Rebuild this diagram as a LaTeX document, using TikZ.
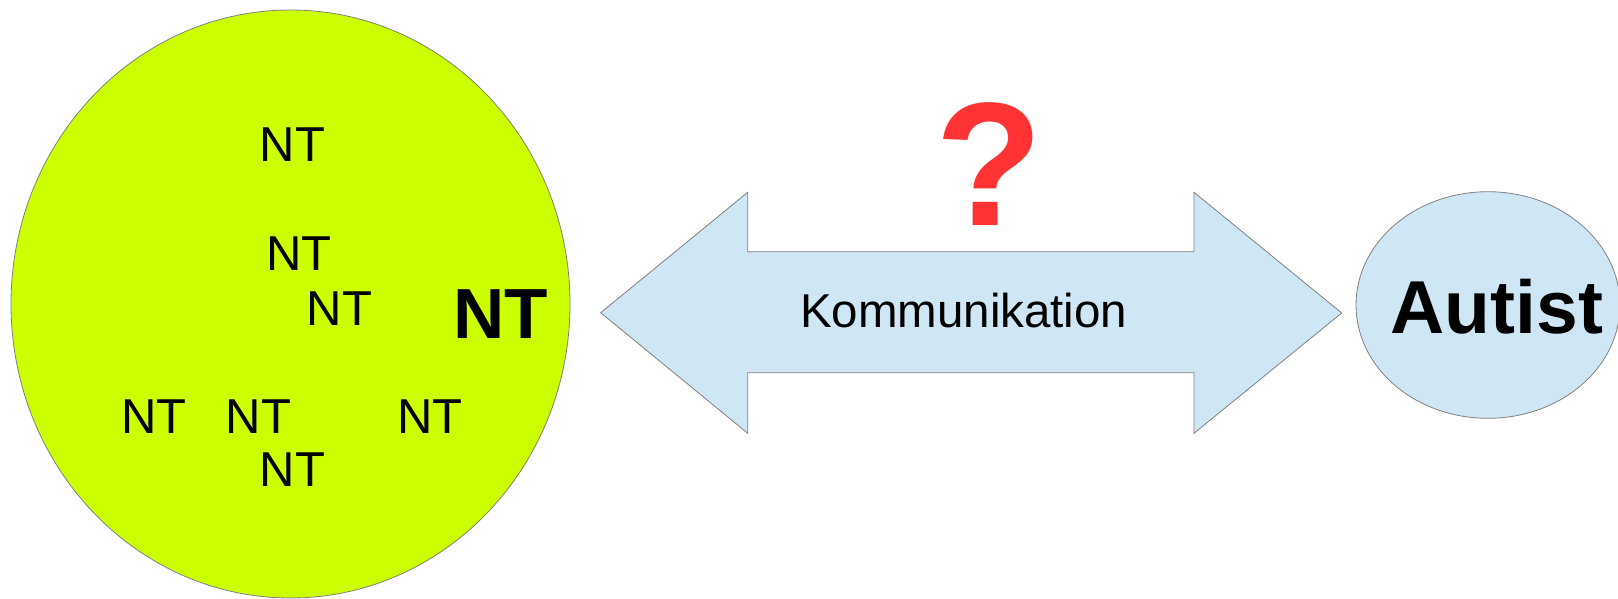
\documentclass[tikz,border=0pt]{standalone}
\usepackage{fontspec}
\setmainfont{Liberation Sans}
\definecolor{ntgreen}{HTML}{CCFF00}
\definecolor{lightblue}{HTML}{CFE6F4}
\definecolor{qred}{HTML}{FF3333}
\definecolor{edgegray}{HTML}{808080}
\begin{document}
\begin{tikzpicture}[x=1pt,y=-1pt,
  shapeline/.style={draw=edgegray,line width=0.8pt},
  nt/.style={anchor=base,inner sep=0pt,font=\fontsize{49}{49}\selectfont},
  bigtext/.style={anchor=base,inner sep=0pt,font=\fontsize{75}{75}\selectfont\bfseries}]
\useasboundingbox (0,0) rectangle (1618,598);
% big group circle
\draw[shapeline,fill=ntgreen] (290.5,304) ellipse [x radius=279.5, y radius=294];
% autist ellipse
\draw[shapeline,fill=lightblue] (1488,305) ellipse [x radius=132, y radius=113.3];
% double arrow
\draw[shapeline,fill=lightblue,line join=miter]
  (600.7,312.7) -- (747.7,192.3) -- (747.7,251.7) -- (1194,251.7) -- (1194,192.3)
  -- (1341.7,313) -- (1194,433.3) -- (1194,372.7) -- (747.7,372.7) -- (747.7,433.3) -- cycle;
% texts
\node[nt] (nt1) at (292.5,161.5) {NT};
\node[nt] (nt2) at (299,270) {NT};
\node[nt] (nt3) at (339.5,325) {NT};
\node[nt] (nt4) at (154,433) {NT};
\node[nt] (nt5) at (258.5,433) {NT};
\node[nt] (nt6) at (430,433) {NT};
\node[nt] (nt7) at (292.5,486.5) {NT};
\node[bigtext,font=\fontsize{71}{71}\selectfont\bfseries] (ntbig) at (501,338.5) {NT};
\node[bigtext] (autist) at (1497,333.3) {Autist};
\node[anchor=base,inner sep=0pt,font=\fontsize{47.5}{47.5}\selectfont] (komm) at (963.7,327.7) {Kommunikation};
\node[anchor=base,inner sep=0pt,text=qred,font=\fontsize{176}{176}\selectfont\bfseries] (q) at (989,225) {?};
\end{tikzpicture}
\end{document}
